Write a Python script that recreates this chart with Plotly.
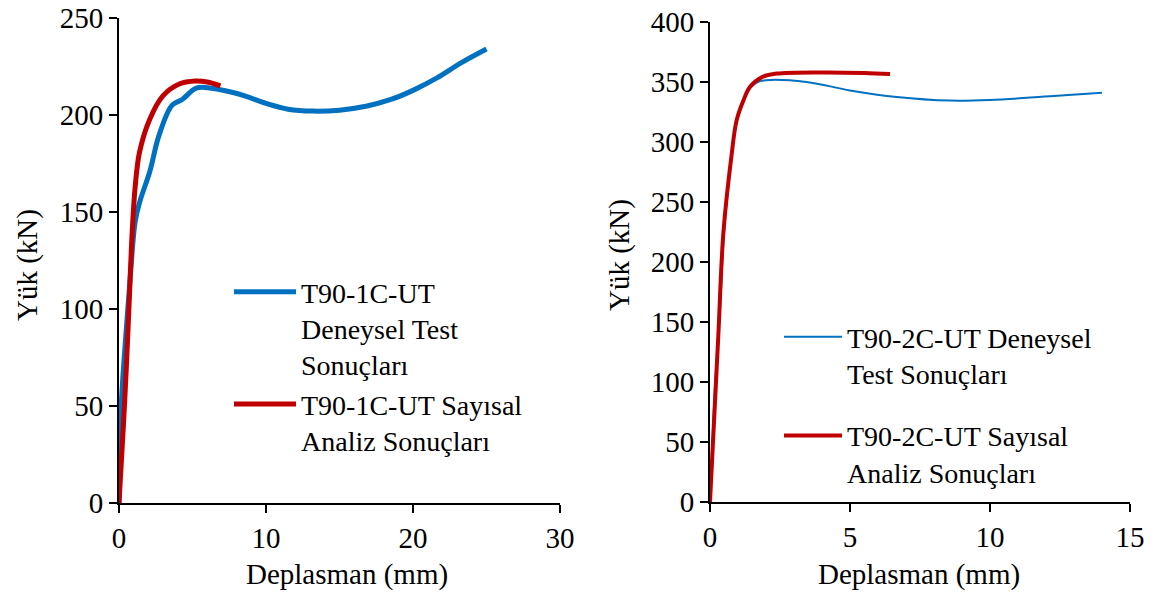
import plotly.graph_objects as go

# Left panel: T90-1C-UT
x_test_1 = [0, 0.15, 0.5, 0.8, 1.1, 1.4, 2.1, 2.7, 3.6, 4.3, 5.3, 6.9, 8.5, 10, 11.5, 13.2, 15, 16.8, 18.5, 20, 21.6, 23.3, 25]
y_test_1 = [0, 50, 90, 120, 145, 155, 171, 189, 205, 208, 214, 213, 210, 206, 203, 202, 202.5, 204.5, 208, 212.7, 219, 227, 234]
x_num_1 = [0, 0.3, 0.5, 0.7, 0.9, 1.1, 1.4, 2.1, 3.0, 4.1, 5.2, 6.0, 6.9]
y_num_1 = [0, 40, 70, 105, 140, 163, 181, 198, 210, 216, 217.5, 217, 215]

# Right panel: T90-2C-UT
x_test_2 = [0, 0.18, 0.36, 0.5, 0.77, 0.95, 1.2, 1.43, 1.7, 2.0, 3.45, 5.0, 6.67, 8.57, 10, 12.4, 14]
y_test_2 = [0, 97, 161, 225, 287, 316, 335, 345, 350, 351.5, 350, 343, 337.5, 334.5, 335, 338.5, 341]
x_num_2 = [0, 0.15, 0.3, 0.48, 0.77, 0.95, 1.2, 1.43, 1.85, 2.38, 4.05, 5.5, 6.43]
y_num_2 = [0, 70, 140, 225, 289, 318, 335, 346, 354, 357, 358, 357.5, 356.6]

names_1 = ["T90-1C-UT<br>Deneysel Test<br>Sonuçları", "T90-1C-UT Sayısal<br>Analiz Sonuçları"]
names_2 = ["T90-2C-UT Deneysel<br>Test Sonuçları", "T90-2C-UT Sayısal<br>Analiz Sonuçları"]
x_title = "Deplasman (mm)"
y_title = "Yük (kN)"

BLUE = "#0070C0"
RED = "#C00000"
FONT = "Liberation Serif, Times New Roman, serif"
FS = 29
LFS = 28

W, H = 1155, 597


def px(p):
    return p / W


def py(p):
    return 1 - p / H


fig = go.Figure()
fig.add_trace(go.Scatter(x=x_test_1, y=y_test_1, mode="lines", name=names_1[0],
                         line=dict(color=BLUE, width=5, shape="spline"),
                         xaxis="x", yaxis="y", legend="legend"))
fig.add_trace(go.Scatter(x=x_num_1, y=y_num_1, mode="lines", name=names_1[1],
                         line=dict(color=RED, width=5, shape="spline"),
                         xaxis="x", yaxis="y", legend="legend"))
fig.add_trace(go.Scatter(x=x_test_2, y=y_test_2, mode="lines", name=names_2[0],
                         line=dict(color=BLUE, width=2, shape="spline"),
                         xaxis="x2", yaxis="y2", legend="legend2", legendgroup="a"))
fig.add_trace(go.Scatter(x=x_num_2, y=y_num_2, mode="lines", name=names_2[1],
                         line=dict(color=RED, width=4, shape="spline"),
                         xaxis="x2", yaxis="y2", legend="legend2", legendgroup="b"))

axis_common = dict(showline=True, linecolor="black", linewidth=2, ticks="outside",
                   ticklen=8, tickwidth=2, tickcolor="black", showgrid=False,
                   zeroline=False, automargin=False, ticklabeloverflow="allow",
                   tickfont=dict(family=FONT, size=FS, color="black"))

fig.update_layout(
    width=W, height=H,
    margin=dict(l=0, r=0, t=0, b=0, autoexpand=False),
    paper_bgcolor="white", plot_bgcolor="white",
    font=dict(family=FONT, size=FS, color="black"),
    xaxis=dict(domain=[px(119), px(560)], range=[0, 30], dtick=10, anchor="y", **axis_common),
    yaxis=dict(domain=[py(503), py(18)], range=[0, 250], dtick=50, anchor="x", **axis_common),
    xaxis2=dict(domain=[px(710), px(1130)], range=[0, 15], dtick=5, anchor="y2", **axis_common),
    yaxis2=dict(domain=[py(502), py(22)], range=[0, 400], dtick=50, anchor="x2", **axis_common),
    legend=dict(x=px(229), y=py(267), xanchor="left", yanchor="top",
                bgcolor="rgba(0,0,0,0)", itemwidth=62, valign="top",
                font=dict(family=FONT, size=LFS, color="black"), tracegroupgap=0),
    legend2=dict(x=px(779), y=py(312), xanchor="left", yanchor="top",
                 bgcolor="rgba(0,0,0,0)", itemwidth=58, valign="top",
                 font=dict(family=FONT, size=LFS, color="black"), tracegroupgap=23),
    showlegend=True,
)

annos = [
    dict(text=y_title, x=px(27), y=py(265), textangle=-90),
    dict(text=y_title, x=px(620), y=py(255), textangle=-90),
    dict(text=x_title, x=px(347), y=py(574)),
    dict(text=x_title, x=px(919), y=py(574)),
]
for a in annos:
    fig.add_annotation(xref="paper", yref="paper", showarrow=False,
                       xanchor="center", yanchor="middle",
                       font=dict(family=FONT, size=FS, color="black"), **a)

fig.write_html("out.html", config={"displayModeBar": False},
               post_script="document.body.style.margin='0px';")
